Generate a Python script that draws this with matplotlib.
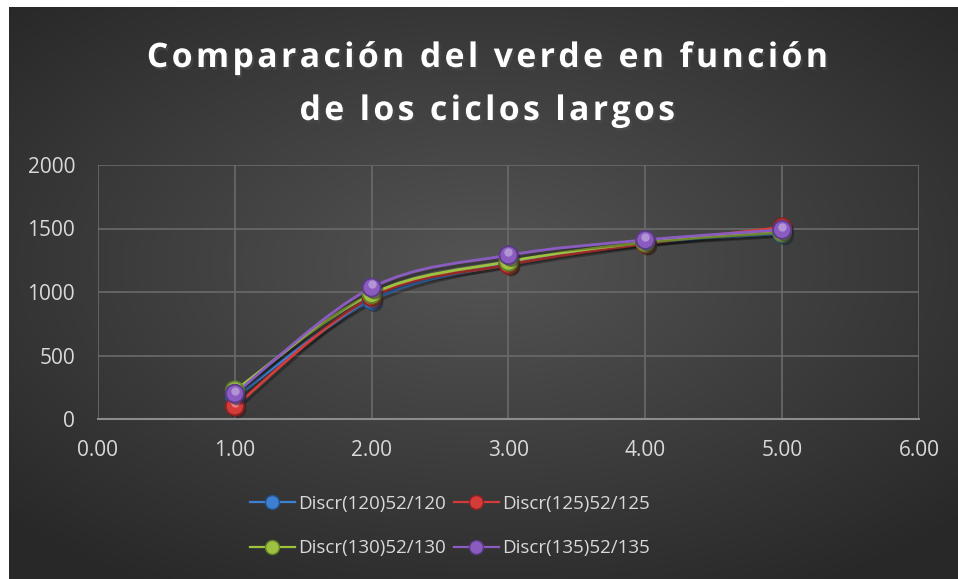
import numpy as np
import matplotlib
matplotlib.use("Agg")
import matplotlib.pyplot as plt
from matplotlib.path import Path
from matplotlib.patches import PathPatch
from matplotlib.lines import Line2D
from matplotlib.transforms import offset_copy
import matplotlib.patheffects as pe

# data
x = [1.0, 2.0, 3.0, 4.0, 5.0]
s120 = [170, 935, 1225, 1385, 1460]
s125 = [100, 960, 1215, 1380, 1510]
s130 = [225, 985, 1240, 1390, 1470]
s135 = [200, 1035, 1290, 1410, 1490]
labels = ["Discr(120)52/120", "Discr(125)52/125", "Discr(130)52/130", "Discr(135)52/135"]
colors = ["#3d7fd0", "#d43c3a", "#9cc23f", "#8a5cc0"]
edges = ["#23548f", "#8e2220", "#66822a", "#5a3a85"]
xticks = [0, 1, 2, 3, 4, 5, 6]
yticks = [0, 500, 1000, 1500, 2000]
title_lines = ["Comparación del verde en función", "de los ciclos largos"]

plt.rcParams['font.family'] = ['Open Sans', 'DejaVu Sans']

fig = plt.figure(figsize=(9.58, 5.79), dpi=100)
fig.patch.set_facecolor("white")

# dark radial gradient background
bg = fig.add_axes([9 / 958, 0, 949 / 958, 572 / 579], zorder=-10)
gx, gy = np.meshgrid(np.linspace(-1, 1, 400), np.linspace(-1, 1, 250))
r = np.sqrt((gx * 0.95) ** 2 + ((gy + 0.1) * 1.0) ** 2)
shade = 0.33 - 0.17 * np.clip(r, 0, 1.3) / 1.3
bg.imshow(np.dstack([shade, shade, shade]), aspect="auto", extent=[0, 1, 0, 1])
bg.set_axis_off()

ax = fig.add_axes([98 / 958, 1 - 419 / 579, (919 - 98) / 958, (419 - 165) / 579])
ax.set_facecolor("none")
ax.set_xlim(0, 6)
ax.set_ylim(0, 2000)
ax.set_xticks(xticks)
ax.set_xticklabels([f"{v:.2f}" for v in xticks])
ax.set_yticks(yticks)
ax.grid(True, color="#6a6a6a", linewidth=1.2)
ax.set_axisbelow(True)
for side in ["top", "right", "left"]:
    ax.spines[side].set_visible(False)
ax.spines["bottom"].set_color("#8c8c8c")
ax.spines["bottom"].set_linewidth(1.5)
ax.tick_params(colors="#d9d9d9", labelsize=15, length=0)
ax.tick_params(axis="x", pad=15)
ax.tick_params(axis="y", pad=16.5)


def smooth_path(xs, ys):
    pts = np.column_stack([xs, ys]).astype(float)
    p = np.vstack([pts[0], pts, pts[-1]])
    verts = [tuple(pts[0])]
    codes = [Path.MOVETO]
    for i in range(1, len(p) - 2):
        c1 = p[i] + (p[i + 1] - p[i - 1]) / 6
        c2 = p[i + 1] - (p[i + 2] - p[i]) / 6
        verts += [tuple(c1), tuple(c2), tuple(p[i + 1])]
        codes += [Path.CURVE4] * 3
    return Path(verts, codes)


series = [s120, s125, s130, s135]
shadow = [pe.SimpleLineShadow(offset=(1.5, -2), shadow_color="black", alpha=0.3), pe.Normal()]
for ys, c in zip(series, colors):
    patch = PathPatch(smooth_path(x, ys), facecolor="none", edgecolor=c, linewidth=2.0, zorder=3)
    patch.set_path_effects(shadow)
    ax.add_patch(patch)

# sphere-like markers
for i, (ys, c, ec) in enumerate(zip(series, colors, edges)):
    ax.plot(x, ys, linestyle="none", marker="o", markersize=13, markerfacecolor=c,
            markeredgecolor=ec, markeredgewidth=1.3, zorder=4 + i,
            path_effects=[pe.SimplePatchShadow(offset=(2, -2), alpha=0.5), pe.Normal()])
    hl = offset_copy(ax.transData, fig=fig, x=0, y=2.2, units="points")
    ax.plot(x, ys, linestyle="none", marker="o", markersize=6, markerfacecolor="white",
            markeredgecolor="none", alpha=0.35, transform=hl, zorder=4 + i)

handles = [Line2D([], [], color=c, linewidth=1.6, marker="o", markersize=10,
                  markerfacecolor=c, markeredgecolor=ec) for c, ec in zip(colors, edges)]
order = [0, 2, 1, 3]
fig.legend([handles[k] for k in order], [labels[k] for k in order], loc="center",
           bbox_to_anchor=(450 / 958, 1 - 526 / 579), ncol=2, frameon=False,
           fontsize=13.5, labelcolor="#d9d9d9", handlelength=2.4, handletextpad=0.2,
           columnspacing=0.4, labelspacing=1.4, borderpad=0)

hair = "\u200a"
for line, base in zip(title_lines, [67, 120]):
    t = fig.text(487 / 958, 1 - base / 579, hair.join(line), ha="center", va="baseline",
                 color="white", fontsize=24.3, fontweight="bold")
    t.set_path_effects([pe.SimplePatchShadow(offset=(1.5, -2), alpha=0.6), pe.Normal()])

fig.savefig("out.png", dpi=100, facecolor=fig.get_facecolor())
